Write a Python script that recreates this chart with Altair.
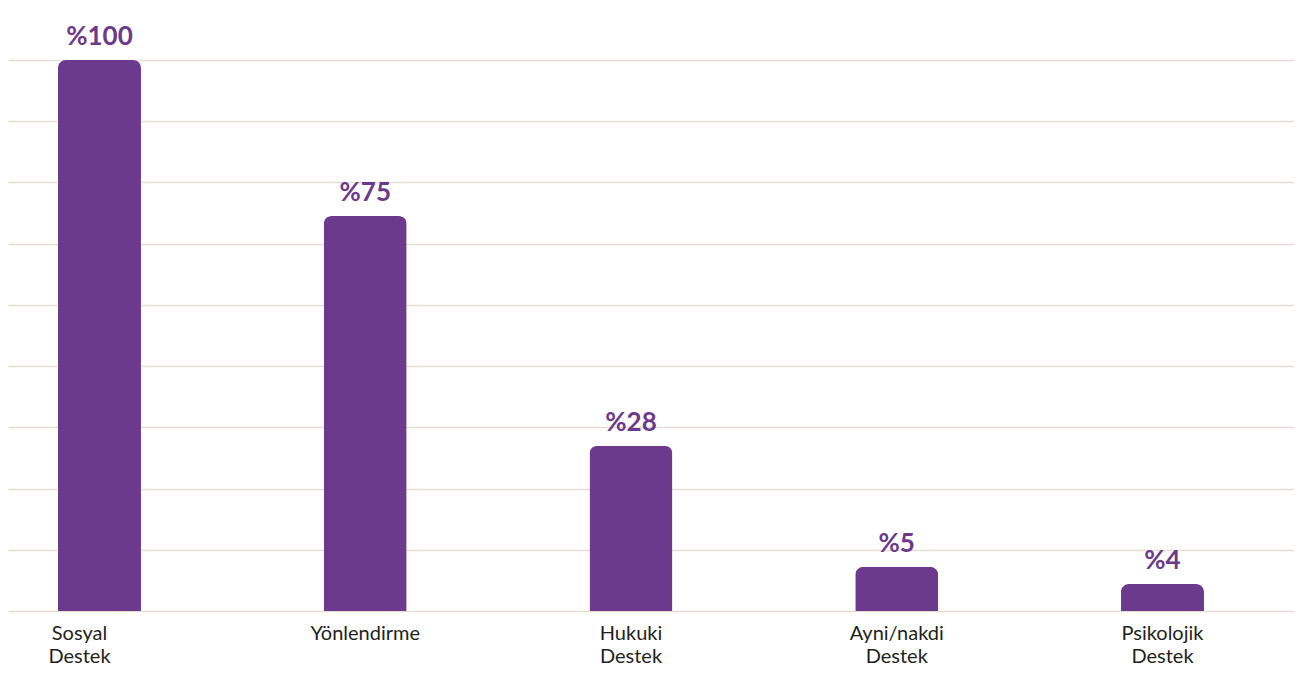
import altair as alt
import pandas as pd

categories = ["Sosyal Destek", "Yönlendirme", "Hukuki Destek", "Ayni/nakdi Destek", "Psikolojik Destek"]
heights = [9.0, 6.45, 2.70, 0.72, 0.44]
labels = ["%100", "%75", "%28", "%5", "%4"]

df = pd.DataFrame({"cat": categories, "h": heights, "lbl": labels})

PURPLE = "#6c3a8c"
FONT = "Lato"

x = alt.X(
    "cat:N",
    sort=categories,
    title=None,
    scale=alt.Scale(paddingInner=0.6877, paddingOuter=0.2634, align=0.357),
    axis=alt.Axis(
        labelAngle=0,
        labelExpr="split(datum.label, ' ')",
        labelFont=FONT,
        labelFontSize=20,
        labelColor="#231f20",
        labelLineHeight=23,
        labelPadding=12,
        labelBaseline="top",
        labelOffset={"condition": {"test": "datum.value === 'Sosyal Destek'", "value": -20}, "value": 0},
        domain=False,
        ticks=False,
        grid=False,
    ),
)
y = alt.Y(
    "h:Q",
    title=None,
    scale=alt.Scale(domain=[0, 9], nice=False),
    axis=alt.Axis(
        values=list(range(10)),
        labels=False,
        ticks=False,
        domain=False,
        grid=True,
        gridColor="#e6dfcf",
        gridWidth=1.5,
    ),
)

base = alt.Chart(df)
bars = base.mark_bar(color=PURPLE, cornerRadiusTopLeft=8, cornerRadiusTopRight=8).encode(x=x, y=y)
text = base.mark_text(
    color=PURPLE, font=FONT, fontSize=26, fontWeight="bold", baseline="bottom", dy=-10
).encode(x=alt.X("cat:N", sort=categories), y="h:Q", text="lbl:N")

chart = (
    alt.layer(bars, text)
    .properties(
        width=1286,
        height=551,
        autosize=alt.AutoSizeParams(type="none"),
        padding={"left": 0, "top": 52, "right": 0, "bottom": 56},
    )
    .configure_view(stroke=None)
)

chart.save("out.html", embed_options={"renderer": "svg", "actions": False})
